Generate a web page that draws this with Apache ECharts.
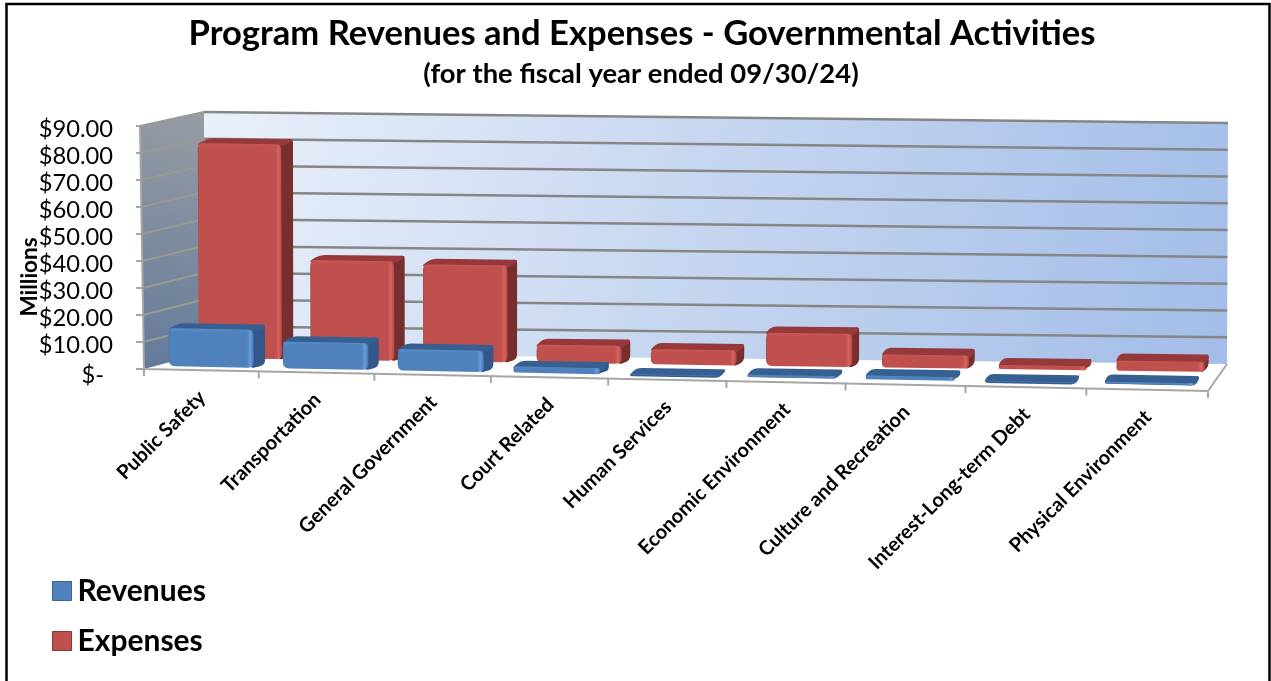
<!DOCTYPE html>
<html>
<head>
<meta charset="utf-8">
<style>html,body{margin:0;padding:0;background:#fff}#c{width:1271px;height:681px}</style>
<script src="https://cdn.jsdelivr.net/npm/echarts@6/dist/echarts.min.js"></script>
</head>
<body>
<div id="c"></div>
<script>
// Program revenues and expenses, in millions of dollars
const categories = ['Public Safety','Transportation','General Government','Court Related','Human Services','Economic Environment','Culture and Recreation','Interest-Long-term Debt','Physical Environment'];
const revenues = [14, 9.8, 7.8, 2.2, 0.2, 0.8, 1.3, 0.2, 0.7];
const expenses = [80, 37, 36, 6.7, 5.6, 12.3, 4.8, 1.5, 3.7];
const yTicks = [0,10,20,30,40,50,60,70,80,90];

const FONT = 'Lato, "Noto Sans", sans-serif';
const grid = {left:144, top:126, width:1064, height:243};

// Corners of the drawn box, indexed by [t][v][d]: along categories, up the value axis, into the depth.
const corner = {
  '000':[144,369],'100':[1208,391],'010':[140,126],'110':[1211,146],
  '001':[204,353],'101':[1227,364],'011':[204,112],'111':[1228,123]
};
const WARP = 0.033;

function project(t, v, d) {
  const w = t + WARP * t * (t - 1);
  const out = [0,0];
  for (let a = 0; a < 2; a++) {
    const c = (i,j,k) => corner['' + i + j + k][a];
    const lerp = (p,q,s) => p + (q - p) * s;
    const c0 = lerp(lerp(c(0,0,0),c(1,0,0),w), lerp(c(0,1,0),c(1,1,0),w), v);
    const c1 = lerp(lerp(c(0,0,1),c(1,0,1),w), lerp(c(0,1,1),c(1,1,1),w), v);
    out[a] = lerp(c0, c1, d);
  }
  return out;
}
// Turns a pixel on the flat grid, as given by the axes, into box fractions.
const fracT = px => (px - grid.left) / grid.width;
const fracV = py => (grid.top + grid.height - py) / grid.height;

function roundedPath(pts, r) {
  const n = pts.length; let s = '';
  for (let i = 0; i < n; i++) {
    const p = pts[i], a = pts[(i + n - 1) % n], b = pts[(i + 1) % n];
    const toward = (q) => {
      const dx = q[0]-p[0], dy = q[1]-p[1], l = Math.hypot(dx,dy) || 1, k = Math.min(r, l/2)/l;
      return [p[0]+dx*k, p[1]+dy*k];
    };
    const s1 = toward(a), s2 = toward(b);
    s += (i ? 'L' : 'M') + s1[0].toFixed(2) + ' ' + s1[1].toFixed(2) +
         'Q' + p[0].toFixed(2) + ' ' + p[1].toFixed(2) + ' ' + s2[0].toFixed(2) + ' ' + s2[1].toFixed(2);
  }
  return s + 'Z';
}
const poly = (pts, style) => ({type:'polygon', shape:{points:pts}, style, silent:true});
const pathEl = (pts, r, style) => {
  const xs = pts.map(p=>p[0]), ys = pts.map(p=>p[1]);
  const x = Math.min(...xs), y = Math.min(...ys);
  return {type:'path', silent:true, style,
    shape:{pathData:roundedPath(pts,r), layout:'cover', x, y, width:Math.max(...xs)-x, height:Math.max(...ys)-y}};
};
const linear = (x0,y0,x,y,stops) => ({type:'linear',x:x0,y:y0,x2:x,y2:y,colorStops:stops.map(s=>({offset:s[0],color:s[1]}))});

// Bar shape shared by both rows; d0 is the front of the bar and d1 its back.
function barRenderer(d0, d1, pal) {
  return function(params, api) {
    const i = api.value(0), val = api.value(1);
    const base = api.coord([i, 0]), top = api.coord([i, val]);
    const unit = api.size([1, 0])[0];
    const tc = fracT(base[0]), du = unit / grid.width;
    const tl = tc - du * 0.385, tr = tc + du * 0.36;
    const v = fracV(top[1]);
    const fbl = project(tl,0,d0), fbr = project(tr,0,d0), ftl = project(tl,v,d0), ftr = project(tr,v,d0);
    const bbr = project(tr,0,d1), btl = project(tl,v,d1), btr = project(tr,v,d1);
    const h = fbl[1] - ftl[1];
    const r = Math.min(6, Math.max(1, h * 0.35));
    const kids = [];
    // depth face on the right
    kids.push(pathEl([[ftr[0]-6,ftr[1]], [btr[0],btr[1]-2], bbr, [fbr[0]-4,fbr[1]]], Math.min(5, r + 1), {fill: pal.side}));
    // top face with soft corners
    kids.push(pathEl([[ftl[0],ftl[1]+2], [btl[0],btl[1]-2], [btr[0],btr[1]-2], [ftr[0],ftr[1]+2]], 5, {fill: pal.top}));
    if (h > 1.5) {
      kids.push(pathEl([ftl, ftr, fbr, fbl], r, {
        fill: linear(0,0,1,0,[[0,pal.edge],[0.02,pal.main],[0.92,pal.main],[0.96,pal.light],[0.985,pal.main],[1,pal.edge]])
      }));
      kids.push(pathEl([ftl, ftr, [ftr[0],ftr[1]+Math.min(4,h*0.25)], [ftl[0],ftl[1]+Math.min(4,h*0.25)]], Math.min(2,r), {
        fill: linear(0,0,0,1,[[0,pal.light],[1,pal.mainClear]]), opacity: 0.5
      }));
    } else {
      kids.push(poly([ftl, ftr, fbr, fbl], {fill: pal.main}));
    }
    return {type:'group', children:kids};
  };
}

const redPal = {main:'#C0504D', mainClear:'rgba(192,80,77,0)', light:'#D9625F', edge:'#AD4744', top:'#95393A', side:'#772F2D'};
const bluePal = {main:'#4F81BD', mainClear:'rgba(79,129,189,0)', light:'#6A9CD6', edge:'#4474AC', top:'#376092', side:'#33578A'};

// Walls, floor and the grid lines on them
function wallRenderer(params, api) {
  const kids = [];
  if (params.dataIndex === 0) {
    kids.push(poly([project(0,0,0),project(0,0,1),project(1,0,1),project(1,0,0)], {fill:'#fff'}));
    kids.push(poly([project(0,0,1),project(0,1,1),project(1,1,1),project(1,0,1)], {
      fill: linear(0,0,1,1,[[0,'#EAF0FA'],[0.5,'#C5D5F0'],[1,'#A2BDE8']])}));
    kids.push(poly([project(0,0,0),project(0,1,0),project(0,1,1),project(0,0,1)], {
      fill: linear(1,0,0,1,[[0,'#979CA3'],[1,'#647A9B']])}));
  }
  const v = fracV(api.coord([0, api.value(0)])[1]);
  if (v > 0) {
    kids.push({type:'polyline', silent:true, shape:{points:[project(0,v,0),project(0,v,1)]}, style:{stroke:'#9A9A94', lineWidth:2, fill:null}});
    kids.push({type:'polyline', silent:true, shape:{points:[project(0,v,1),project(1,v,1)]}, style:{stroke:'#868686', lineWidth:2.5, fill:null}});
  } else {
    // floor edges and the left edge of the side wall
    kids.push({type:'polyline', silent:true, shape:{points:[project(1,0,1),project(1,0,0),project(0,0,0),project(0,1,0)]}, style:{stroke:'#A6A6A6', lineWidth:2, fill:null}});
  }
  return {type:'group', children:kids};
}

// Category ticks under the front floor edge and the slanted names below them
function tickRenderer(params, api) {
  const i = api.value(0);
  const c = api.coord([i, 0]);
  const unit = api.size([1,0])[0];
  const tc = fracT(c[0]);
  const kids = [];
  const tick = (t) => {
    const p = project(t,0,0);
    kids.push({type:'line', silent:true, shape:{x1:p[0], y1:p[1], x2:p[0], y2:p[1]+7}, style:{stroke:'#A6A6A6', lineWidth:2}});
  };
  tick(tc - unit / grid.width / 2);
  if (i === categories.length - 1) tick(tc + unit / grid.width / 2);
  const p = project(tc,0,0);
  kids.push({type:'text', silent:true, x:p[0]+1, y:p[1]+24, rotation:Math.PI/4,
    style:{text:categories[i], font:'bold 20px ' + FONT, fill:'#000', align:'right', verticalAlign:'middle'}});
  return {type:'group', children:kids};
}

const chart = echarts.init(document.getElementById('c'), null, {renderer:'canvas'});
chart.setOption({
  animation:false,
  backgroundColor:'#fff',
  title:[
    {text:'Program Revenues and Expenses - Governmental Activities', left:637, top:11, textAlign:'center',
     textStyle:{fontFamily:FONT, fontWeight:'bold', fontSize:34.6, color:'#000'}},
    {text:'(for the fiscal year ended 09/30/24)', left:636, top:56, textAlign:'center',
     textStyle:{fontFamily:FONT, fontWeight:'bold', fontSize:27.4, color:'#000'}}
  ],
  legend:{
    orient:'vertical', left:52, top:576, padding:0, itemWidth:19, itemHeight:19, itemGap:20, icon:'rect',
    data:[
      {name:'Revenues', itemStyle:{color:'#4F81BD', borderColor:'#3A6597', borderWidth:1}},
      {name:'Expenses', itemStyle:{color:'#C0504D', borderColor:'#8C3836', borderWidth:1}}
    ],
    textStyle:{fontFamily:FONT, fontWeight:'bold', fontSize:30, color:'#000', padding:[0,0,0,1]}
  },
  grid:Object.assign({containLabel:false}, grid),
  xAxis:{type:'category', data:categories, show:false},
  yAxis:{
    type:'value', min:0, max:90, interval:10,
    axisLine:{show:false},
    axisTick:{show:true, length:8, lineStyle:{color:'#A6A6A6', width:2}},
    splitLine:{show:false},
    axisLabel:{
      margin:31, fontFamily:FONT, fontSize:23.7, color:'#000', padding:[6,0,0,0],
      formatter:(val)=> val === 0 ? '{z|$-}' : '$' + val.toFixed(2),
      rich:{z:{fontFamily:FONT, fontSize:23.7, color:'#000', padding:[6,9,0,0]}}
    }
  },
  graphic:[
    {type:'rect', silent:true, shape:{x:6.5,y:4,width:1263,height:700}, style:{fill:null, stroke:'#000', lineWidth:2.5}, z:100},
    {type:'text', silent:true, x:30, y:277, rotation:Math.PI/2, style:{text:'Millions', font:'bold 22.5px ' + FONT, fill:'#000', align:'center', verticalAlign:'middle'}, z:100}
  ],
  series:[
    {type:'custom', name:'walls', renderItem:wallRenderer, encode:{y:0}, data:yTicks.map(v=>[v]), silent:true, clip:false, z:1},
    {type:'custom', name:'ticks', renderItem:tickRenderer, encode:{x:0}, data:categories.map((c,i)=>[i]), silent:true, clip:false, z:2},
    {type:'custom', name:'Expenses', renderItem:barRenderer(0.70,0.90,redPal), encode:{x:0,y:1}, data:expenses.map((v,i)=>[i,v]), itemStyle:{color:'#C0504D'}, silent:true, clip:false, z:3},
    {type:'custom', name:'Revenues', renderItem:barRenderer(0.20,0.40,bluePal), encode:{x:0,y:1}, data:revenues.map((v,i)=>[i,v]), itemStyle:{color:'#4F81BD'}, silent:true, clip:false, z:4}
  ]
});
</script>
</body>
</html>
